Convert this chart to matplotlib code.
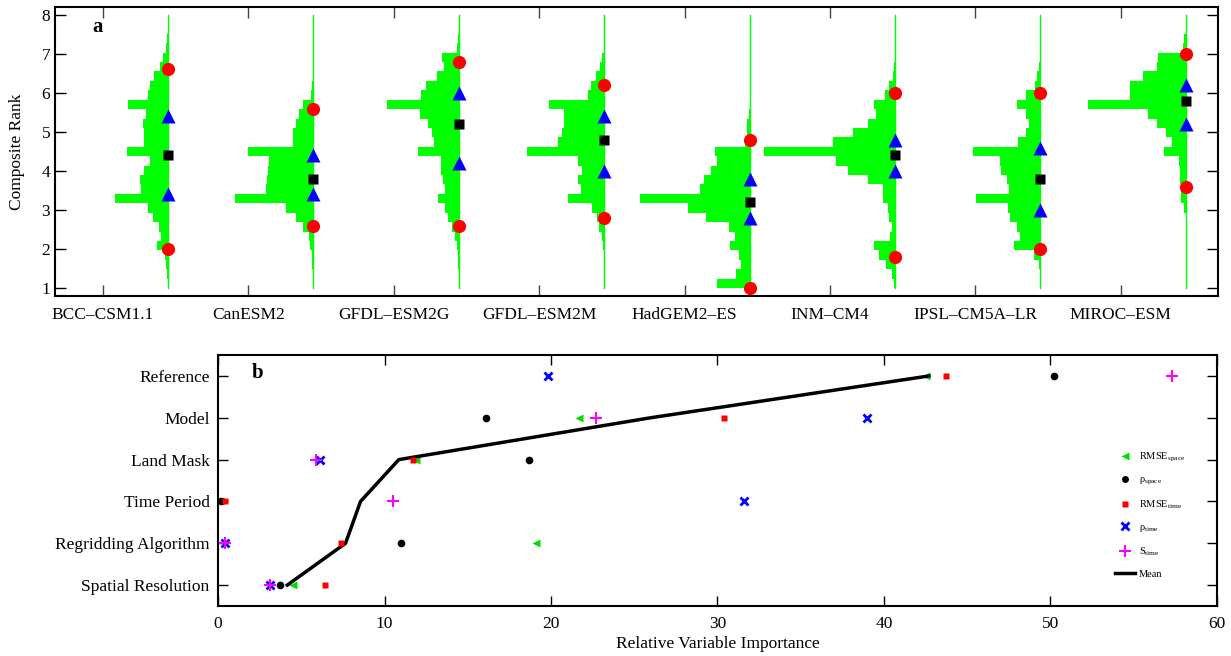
import numpy as np
import matplotlib
matplotlib.use("Agg")
import matplotlib.pyplot as plt
from matplotlib.lines import Line2D

plt.rcParams['font.family'] = ['Liberation Serif', 'DejaVu Serif']
plt.rcParams['mathtext.fontset'] = 'custom'
plt.rcParams['mathtext.rm'] = 'Liberation Serif'
plt.rcParams['mathtext.it'] = 'Liberation Serif:italic'

# ---------------- Panel a data ----------------
models = ['BCC–CSM1.1', 'CanESM2', 'GFDL–ESM2G', 'GFDL–ESM2M',
          'HadGEM2–ES', 'INM–CM4', 'IPSL–CM5A–LR', 'MIROC–ESM']
rank_min, rank_max, n_bins = 1.0, 8.0, 29

# histogram frequencies (arbitrary units), bins from rank 1 (first) to rank 8 (last)
hist_bcc = [0.5, 1, 2, 3, 11, 7, 9, 15, 20, 53, 27, 28, 24, 18, 41, 24, 24, 25, 22, 40, 20, 18, 14, 8, 5, 2, 1, 0.5, 0]
hist_can = [0, 0.5, 1, 1.5, 3, 4, 10, 17, 27, 78, 47, 46, 45, 44, 65, 20, 20, 17, 14, 10, 2, 1, 0, 0, 0, 0, 0, 0, 0]
hist_gfdlg = [0, 0, 0.5, 1, 2, 4, 7, 11, 14, 21, 14, 16, 18, 18, 41, 25, 27, 31, 39, 72, 38, 33, 22, 15, 17, 2, 0.7, 0, 0]
hist_gfdlm = [0, 0, 0, 0.5, 1, 2, 5, 7, 12, 36, 23, 26, 22, 26, 77, 46, 42, 40, 40, 55, 16, 13, 8, 4, 2, 0.5, 0, 0, 0]
hist_had = [33, 14, 9, 11, 20, 15, 21, 44, 62, 110, 50, 46, 39, 33, 35, 5, 3, 3, 1, 0, 0, 0, 0, 0, 0, 0, 0, 0, 0]
hist_inm = [0.7, 3, 9, 16, 21, 5, 3, 6, 7, 12, 12, 27, 47, 59, 131, 62, 42, 27, 19, 21, 10, 6, 2.3, 0.7, 0, 0, 0, 0, 0]
hist_ipsl = [0, 0.5, 1, 6, 26, 20, 23, 30, 32, 64, 31, 33, 39, 40, 67, 22, 14, 11, 14, 23, 14, 5, 3, 1.3, 0.7, 0, 0, 0, 0]
hist_miroc = [0, 0, 0, 0, 0, 0, 0, 0, 1.7, 5, 5, 6, 6, 7, 22, 14, 20, 29, 38, 98, 56, 56, 43, 29, 28, 3, 1.7, 0, 0]
hists = [hist_bcc, hist_can, hist_gfdlg, hist_gfdlm, hist_had, hist_inm, hist_ipsl, hist_miroc]
hist_norm = 145.4  # frequency units per model slot

outer_lo = [2.0, 2.6, 2.6, 2.8, 1.0, 1.8, 2.0, 3.6]
outer_hi = [6.6, 5.6, 6.8, 6.2, 4.8, 6.0, 6.0, 7.0]
inner_lo = [3.4, 3.4, 4.2, 4.0, 2.8, 4.0, 3.0, 5.2]
inner_hi = [5.4, 4.4, 6.0, 5.4, 3.8, 4.8, 4.6, 6.2]
medians = [4.4, 3.8, 5.2, 4.8, 3.2, 4.4, 3.8, 5.8]

# ---------------- Panel b data ----------------
factors = ['Spatial Resolution', 'Regridding Algorithm', 'Time Period',
           'Land Mask', 'Model', 'Reference']
rmse_space = [4.5, 19.1, 0.1, 11.9, 21.7, 42.5]
rho_space = [3.7, 11.0, 0.2, 18.7, 16.1, 50.2]
rmse_time = [6.4, 7.4, 0.4, 11.7, 30.4, 43.7]
rho_time = [3.1, 0.4, 31.6, 6.1, 39.0, 19.8]
s_time = [3.1, 0.4, 10.5, 5.9, 22.7, 57.3]

GREEN = '#00ff00'

fig = plt.figure(figsize=(12.31, 6.56), dpi=100)

# ---------------- Panel a ----------------
axa = fig.add_axes([0.0447, 0.5488, 0.9447, 0.4405])
edges = np.linspace(rank_min, rank_max, n_bins + 1)
binw = edges[1] - edges[0]
offset = 0.447
for i, h in enumerate(hists):
    base = i + offset
    widths = np.array(h) / hist_norm
    axa.plot([base, base], [rank_min, rank_max], color=GREEN, lw=1.0, zorder=2)
    axa.barh(edges[:-1], -widths, height=binw, left=base, align='edge',
             color=GREEN, edgecolor='none', zorder=2, linewidth=0)
    axa.plot([base, base], [outer_lo[i], outer_hi[i]], 'o', color='red', ms=9.5, mec='none', zorder=4)
    axa.plot([base, base], [inner_lo[i], inner_hi[i]], '^', color='blue', ms=10, mec='none', zorder=4)
    axa.plot([base], [medians[i]], 's', color='black', ms=7.5, mec='none', zorder=5)

axa.set_xlim(-0.33, 7.668)
axa.set_ylim(0.8, 8.2)
axa.set_xticks(range(len(models)))
axa.set_xticklabels(models, fontsize=12.5)
axa.set_yticks(range(1, 9))
axa.tick_params(axis='both', direction='in', top=True, right=True, length=8, width=1, labelsize=12.5)
axa.tick_params(axis='x', pad=8, colors='#444444', labelcolor='black')
axa.set_ylabel('Composite Rank', fontsize=12.5, labelpad=12)
for s in axa.spines.values():
    s.set_linewidth(1.5)
axa.text(0.037, 0.93, 'a', transform=axa.transAxes, fontsize=15, fontweight='bold', ha='center', va='center')

# ---------------- Panel b ----------------
axb = fig.add_axes([0.1771, 0.0762, 0.8115, 0.3826])
y = np.arange(len(factors))
mean_vals = np.mean(np.array([rmse_space, rho_space, rmse_time, rho_time, s_time]), axis=0)
axb.plot(mean_vals, y, color='black', lw=2.5, zorder=3)
axb.plot(rmse_space, y, '<', color='#00dd00', ms=6, mec='none', ls='none', zorder=2)
axb.plot(rho_space, y, 'o', color='black', ms=5.5, mec='none', ls='none', zorder=4)
axb.plot(rmse_time, y, 's', color='red', ms=5, mec='none', ls='none', zorder=4)
axb.plot(rho_time, y, 'x', color='blue', ms=6, mew=2, ls='none', zorder=4)
axb.plot(s_time, y, '+', color='magenta', ms=9, mew=1.5, ls='none', zorder=4)

axb.set_xlim(0, 60)
axb.set_ylim(-0.5, 5.5)
axb.set_yticks(y)
axb.set_yticklabels(factors, fontsize=12.5)
axb.set_xticks(range(0, 61, 10))
axb.tick_params(axis='both', direction='in', top=True, right=True, length=7, width=1, labelsize=12.5)
axb.tick_params(axis='y', pad=6)
axb.tick_params(axis='x', pad=7)
axb.set_xlabel('Relative Variable Importance', fontsize=12.5, labelpad=3)
for s in axb.spines.values():
    s.set_linewidth(1.5)
axb.text(0.04, 0.928, 'b', transform=axb.transAxes, fontsize=15, fontweight='bold', ha='center', va='center')

handles = [
    Line2D([], [], marker='<', color='#00dd00', ms=6, mec='none', ls='none'),
    Line2D([], [], marker='o', color='black', ms=5, mec='none', ls='none'),
    Line2D([], [], marker='s', color='red', ms=5, mec='none', ls='none'),
    Line2D([], [], marker='x', color='blue', ms=6, mew=2, ls='none'),
    Line2D([], [], marker='+', color='magenta', ms=9, mew=1.5, ls='none'),
    Line2D([], [], color='black', lw=2.5),
]
labels = [r'RMSE$_{\mathrm{space}}$', r'ρ$_{\mathrm{space}}$', r'RMSE$_{\mathrm{time}}$',
          r'ρ$_{\mathrm{time}}$', r'S$_{\mathrm{time}}$', 'Mean']
axb.legend(handles, labels, loc='lower right', bbox_to_anchor=(0.975, 0.08), frameon=False,
           fontsize=7.5, handlelength=2.0, handletextpad=0.3, labelspacing=1.1, borderpad=0.2)

fig.savefig('out.png', dpi=100)
